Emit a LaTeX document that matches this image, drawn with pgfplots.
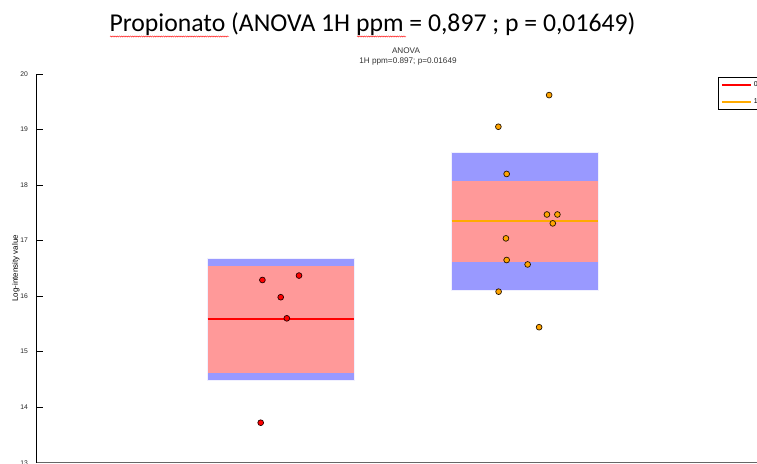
\documentclass[border=0pt]{standalone}
\usepackage{pgfplots}
\pgfplotsset{compat=1.18}
\usepackage{fontspec}
\setmainfont{Liberation Sans}
\newfontfamily\titlefont{Carlito}
\usetikzlibrary{decorations.pathmorphing}
\definecolor{boxblue}{HTML}{9999FF}
\definecolor{boxpink}{HTML}{FF9999}
\definecolor{meanorange}{HTML}{FFAA00}
\definecolor{ptorange}{HTML}{FFA500}
\begin{document}
\begin{tikzpicture}[x=1bp,y=1bp]
\path[use as bounding box, clip] (0,0) rectangle (757,464);
% titles
\node[anchor=base, inner sep=0pt, font=\titlefont\fontsize{25.8}{30}\selectfont] at (372.5,432.3) {Propionato (ANOVA 1H ppm = 0,897 ; p = 0,01649)};
\draw[red, line width=0.4bp, decorate, decoration={snake, segment length=2.2bp, amplitude=0.6bp}] (110,427.5) -- (229,427.5);
\draw[red, line width=0.4bp, decorate, decoration={snake, segment length=2.2bp, amplitude=0.6bp}] (357,427.5) -- (406,427.5);
\node[inner sep=0pt, font=\fontsize{8.2}{9}\selectfont, text=black!80] at (406,413.5) {ANOVA};
\node[inner sep=0pt, font=\fontsize{8.2}{9}\selectfont, text=black!80] at (408,402.5) {1H ppm=0.897; p=0.01649};
\begin{axis}[
  at={(36.7bp,1.3bp)}, anchor=south west,
  scale only axis, width=720.3bp, height=388.7bp,
  xmin=0, xmax=2.952, ymin=13, ymax=20,
  axis x line*=bottom, axis y line*=left,
  axis line style={-, black, line width=0.6bp},
  x axis line style={black!60},
  xtick=\empty,
  ytick={13,14,15,16,17,18,19,20},
  tick align=inside, major tick length=6bp,
  tick style={black, line width=0.6bp},
  /pgf/number format/assume math mode=true,
  yticklabel style={font=\fontsize{6.8}{7}\selectfont, inner sep=0pt, xshift=-8.5bp, text=black!85},
  ylabel={Log-intensity value},
  ylabel style={font=\fontsize{8}{9}\selectfont, at={(axis description cs:-0.029,0.5)}, anchor=center},
  clip=false,
  legend style={at={(axis description cs:0.946,0.9915)}, anchor=north west, draw=black, line width=0.6bp,
    font=\fontsize{7}{8}\selectfont, inner xsep=2.5bp, inner ysep=2.5bp, row sep=6bp,
    /tikz/every even column/.append style={column sep=3bp}},
  legend image code/.code={\draw[#1] (0bp,0bp) -- (29bp,0bp);},
  legend cell align=left,
]
% group 1 boxes
\addplot[fill=boxblue, draw=white!85!boxblue, line width=0.4bp, forget plot] coordinates {(0.7,14.49) (1.3,14.49) (1.3,16.68) (0.7,16.68)} -- cycle;
\addplot[fill=boxpink, draw=none, forget plot] coordinates {(0.7,14.62) (1.3,14.62) (1.3,16.54) (0.7,16.54)} -- cycle;
% group 2 boxes
\addplot[fill=boxblue, draw=white!85!boxblue, line width=0.4bp, forget plot] coordinates {(1.7,16.11) (2.3,16.11) (2.3,18.59) (1.7,18.59)} -- cycle;
\addplot[fill=boxpink, draw=none, forget plot] coordinates {(1.7,16.62) (2.3,16.62) (2.3,18.08) (1.7,18.08)} -- cycle;
% means
\addplot[red, line width=2bp] coordinates {(0.7,15.595) (1.3,15.595)};
\addlegendentry{0}
\addplot[meanorange, line width=2bp] coordinates {(1.7,17.36) (2.3,17.36)};
\addlegendentry{1}
% points
\addplot[only marks, mark=*, mark size=2.9bp, mark options={fill=red, draw=black!85!red, line width=0.7bp}, forget plot] coordinates {
(0.925,16.29) (1.075,16.37) (1.000,15.98) (1.025,15.60) (0.918,13.72)};
\addplot[only marks, mark=*, mark size=2.9bp, mark options={fill=ptorange, draw=black!85!orange, line width=0.7bp}, forget plot] coordinates {
(2.100,19.62) (1.892,19.05) (1.926,18.20) (2.091,17.47) (2.134,17.47) (2.115,17.31)
(1.923,17.04) (1.926,16.65) (2.012,16.57) (1.893,16.08) (2.059,15.44)};
\end{axis}
\end{tikzpicture}
\end{document}
